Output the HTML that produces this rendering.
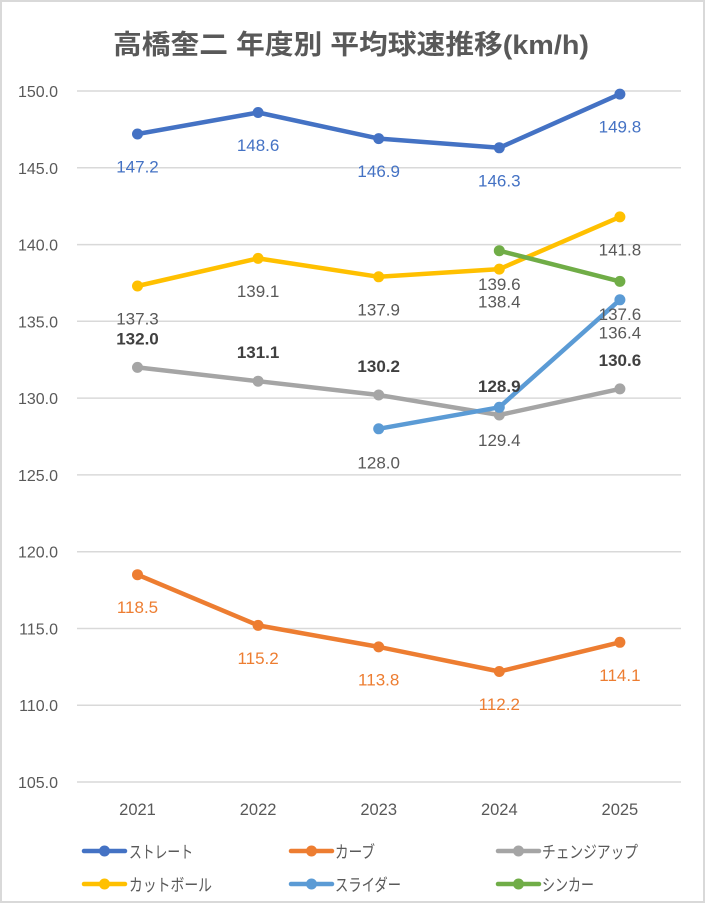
<!DOCTYPE html>
<html>
<head>
<meta charset="utf-8">
<style>
html,body{margin:0;padding:0;background:#fff;}
body{width:705px;height:903px;overflow:hidden;}
svg{display:block;}
text{font-family:"Liberation Sans","Noto Sans CJK JP",sans-serif;}
</style>
</head>
<body>
<svg width="705" height="903" viewBox="0 0 705 903" xmlns="http://www.w3.org/2000/svg">
  <rect x="1" y="1" width="703" height="901" fill="#fff" stroke="#d9d9d9" stroke-width="2"/>
  <!-- title -->
  <text x="351" y="54" text-anchor="middle" font-size="27" font-weight="bold" fill="#595959" textLength="476" lengthAdjust="spacingAndGlyphs">高橋奎二 年度別 平均球速推移(km/h)</text>

  <!-- gridlines -->
  <g stroke="#d9d9d9" stroke-width="1.5">
    <line x1="77" x2="681" y1="91" y2="91"/>
    <line x1="77" x2="681" y1="167.8" y2="167.8"/>
    <line x1="77" x2="681" y1="244.6" y2="244.6"/>
    <line x1="77" x2="681" y1="321.3" y2="321.3"/>
    <line x1="77" x2="681" y1="398.1" y2="398.1"/>
    <line x1="77" x2="681" y1="474.9" y2="474.9"/>
    <line x1="77" x2="681" y1="551.7" y2="551.7"/>
    <line x1="77" x2="681" y1="628.5" y2="628.5"/>
    <line x1="77" x2="681" y1="705.2" y2="705.2"/>
    <line x1="77" x2="681" y1="782" y2="782"/>
  </g>

  <!-- y labels -->
  <g font-size="16" fill="#595959" text-anchor="end">
    <text x="58" y="97">150.0</text>
    <text x="58" y="173.8">145.0</text>
    <text x="58" y="250.6">140.0</text>
    <text x="58" y="327.3">135.0</text>
    <text x="58" y="404.1">130.0</text>
    <text x="58" y="480.9">125.0</text>
    <text x="58" y="557.7">120.0</text>
    <text x="58" y="634.5">115.0</text>
    <text x="58" y="711.2">110.0</text>
    <text x="58" y="788">105.0</text>
  </g>

  <!-- x labels -->
  <g font-size="16.5" fill="#595959" text-anchor="middle">
    <text x="137.5" y="815">2021</text>
    <text x="258.1" y="815">2022</text>
    <text x="378.7" y="815">2023</text>
    <text x="499.3" y="815">2024</text>
    <text x="619.9" y="815">2025</text>
  </g>

  <!-- series -->
  <g fill="none" stroke-width="4.5" stroke-linejoin="round" stroke-linecap="round">
    <polyline stroke="#4472C4" points="137.5,134 258.1,112.5 378.7,138.6 499.3,147.8 619.9,94.1"/>
    <polyline stroke="#ED7D31" points="137.5,574.7 258.1,625.4 378.7,646.9 499.3,671.5 619.9,642.3"/>
    <polyline stroke="#A5A5A5" points="137.5,367.4 258.1,381.2 378.7,395 499.3,415 619.9,388.9"/>
    <polyline stroke="#FFC000" points="137.5,286 258.1,258.4 378.7,276.8 499.3,269.1 619.9,216.9"/>
    <polyline stroke="#5B9BD5" points="378.7,428.8 499.3,407.3 619.9,299.8"/>
    <polyline stroke="#70AD47" points="499.3,250.7 619.9,281.4"/>
  </g>
  <g>
    <g fill="#4472C4">
      <circle cx="137.5" cy="134" r="5.5"/><circle cx="258.1" cy="112.5" r="5.5"/><circle cx="378.7" cy="138.6" r="5.5"/><circle cx="499.3" cy="147.8" r="5.5"/><circle cx="619.9" cy="94.1" r="5.5"/>
    </g>
    <g fill="#ED7D31">
      <circle cx="137.5" cy="574.7" r="5.5"/><circle cx="258.1" cy="625.4" r="5.5"/><circle cx="378.7" cy="646.9" r="5.5"/><circle cx="499.3" cy="671.5" r="5.5"/><circle cx="619.9" cy="642.3" r="5.5"/>
    </g>
    <g fill="#A5A5A5">
      <circle cx="137.5" cy="367.4" r="5.5"/><circle cx="258.1" cy="381.2" r="5.5"/><circle cx="378.7" cy="395" r="5.5"/><circle cx="499.3" cy="415" r="5.5"/><circle cx="619.9" cy="388.9" r="5.5"/>
    </g>
    <g fill="#FFC000">
      <circle cx="137.5" cy="286" r="5.5"/><circle cx="258.1" cy="258.4" r="5.5"/><circle cx="378.7" cy="276.8" r="5.5"/><circle cx="499.3" cy="269.1" r="5.5"/><circle cx="619.9" cy="216.9" r="5.5"/>
    </g>
    <g fill="#5B9BD5">
      <circle cx="378.7" cy="428.8" r="5.5"/><circle cx="499.3" cy="407.3" r="5.5"/><circle cx="619.9" cy="299.8" r="5.5"/>
    </g>
    <g fill="#70AD47">
      <circle cx="499.3" cy="250.7" r="5.5"/><circle cx="619.9" cy="281.4" r="5.5"/>
    </g>
  </g>

  <!-- data labels -->
  <g font-size="17" text-anchor="middle">
    <g fill="#4472C4">
      <text x="137.5" y="172.5">147.2</text>
      <text x="258.1" y="151">148.6</text>
      <text x="378.7" y="177.1">146.9</text>
      <text x="499.3" y="186.3">146.3</text>
      <text x="619.9" y="132.6">149.8</text>
    </g>
    <g fill="#ED7D31">
      <text x="137.5" y="613.2">118.5</text>
      <text x="258.1" y="663.9">115.2</text>
      <text x="378.7" y="685.4">113.8</text>
      <text x="499.3" y="710">112.2</text>
      <text x="619.9" y="680.8">114.1</text>
    </g>
    <g fill="#404040" font-weight="bold">
      <text x="137.5" y="344.4">132.0</text>
      <text x="258.1" y="358.2">131.1</text>
      <text x="378.7" y="372">130.2</text>
      <text x="499.3" y="392">128.9</text>
      <text x="619.9" y="365.9">130.6</text>
    </g>
    <g fill="#595959">
      <text x="137.5" y="324.5">137.3</text>
      <text x="258.1" y="296.9">139.1</text>
      <text x="378.7" y="315.3">137.9</text>
      <text x="499.3" y="307.6">138.4</text>
      <text x="619.9" y="255.4">141.8</text>
      <text x="378.7" y="468.3">128.0</text>
      <text x="499.3" y="445.8">129.4</text>
      <text x="619.9" y="338.3">136.4</text>
      <text x="499.3" y="290.2">139.6</text>
      <text x="619.9" y="319.9">137.6</text>
    </g>
  </g>

  <!-- legend -->
  <g stroke-width="4.5" stroke-linecap="round">
    <line x1="84" x2="125" y1="851" y2="851" stroke="#4472C4"/>
    <line x1="291" x2="332" y1="851" y2="851" stroke="#ED7D31"/>
    <line x1="498" x2="539" y1="851" y2="851" stroke="#A5A5A5"/>
    <line x1="84" x2="125" y1="884" y2="884" stroke="#FFC000"/>
    <line x1="291" x2="332" y1="884" y2="884" stroke="#5B9BD5"/>
    <line x1="498" x2="539" y1="884" y2="884" stroke="#70AD47"/>
  </g>
  <circle cx="104.5" cy="851" r="5.5" fill="#4472C4"/>
  <circle cx="311.5" cy="851" r="5.5" fill="#ED7D31"/>
  <circle cx="518.5" cy="851" r="5.5" fill="#A5A5A5"/>
  <circle cx="104.5" cy="884" r="5.5" fill="#FFC000"/>
  <circle cx="311.5" cy="884" r="5.5" fill="#5B9BD5"/>
  <circle cx="518.5" cy="884" r="5.5" fill="#70AD47"/>
  <g font-size="17" fill="#595959">
    <text x="129" y="858" textLength="64" lengthAdjust="spacingAndGlyphs">ストレート</text>
    <text x="335" y="858" textLength="40" lengthAdjust="spacingAndGlyphs">カーブ</text>
    <text x="542" y="858" textLength="96" lengthAdjust="spacingAndGlyphs">チェンジアップ</text>
    <text x="129" y="891" textLength="83" lengthAdjust="spacingAndGlyphs">カットボール</text>
    <text x="335" y="891" textLength="66" lengthAdjust="spacingAndGlyphs">スライダー</text>
    <text x="542" y="891" textLength="52" lengthAdjust="spacingAndGlyphs">シンカー</text>
  </g>
</svg>
</body>
</html>
